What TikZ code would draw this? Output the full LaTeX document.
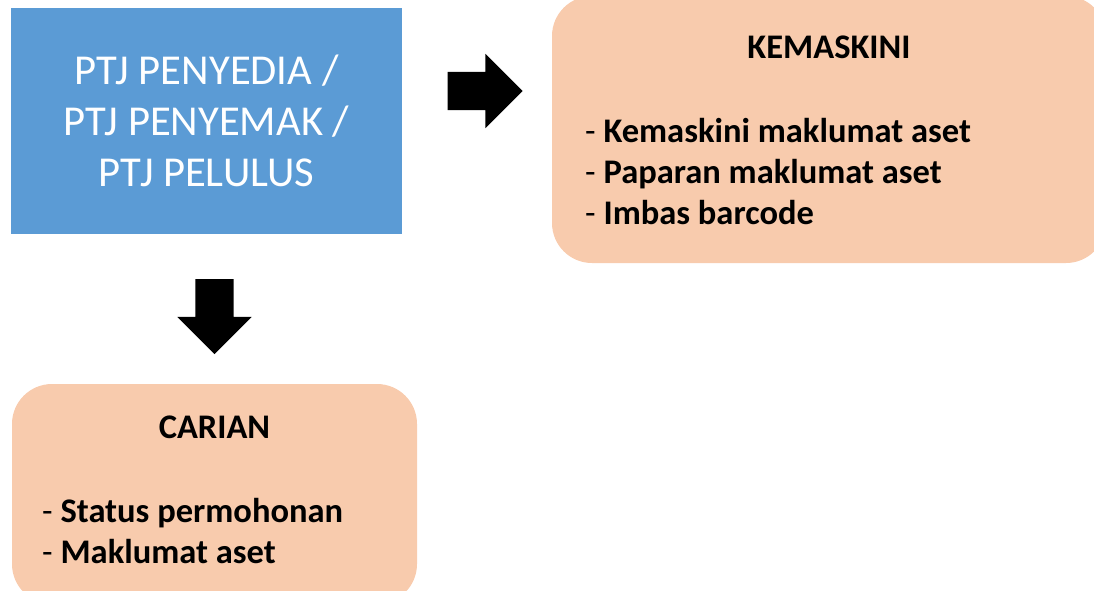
\documentclass[tikz,border=0pt]{standalone}
\usepackage{fontspec}
\setmainfont{Carlito}
\usetikzlibrary{shapes.arrows}
\definecolor{ptjblue}{HTML}{5B9BD5}
\definecolor{peach}{HTML}{F8CBAD}
\tikzset{ptjbox/.style = {fill = ptjblue, text = white, align = center, inner sep = 0,
                          minimum width = 391pt, minimum height = 226pt,
                          font = \fontsize{42.6pt}{51pt}\selectfont}}
\tikzset{menubox/.style = {fill = peach, rounded corners = 40pt, inner sep = 0}}
\tikzset{menutitle/.style = {inner sep = 0, font = \fontsize{34.5pt}{41pt}\selectfont\bfseries}}
\tikzset{menulist/.style = {inner sep = 0, anchor = west, align = left,
                            font = \fontsize{34.5pt}{41pt}\selectfont}}
\tikzset{blkarrow/.style = {single arrow, fill = black, inner xsep = 0, inner ysep = 19pt,
                            minimum height = 75pt, single arrow head extend = 18pt}}
\newcommand{\menuitem}[1]{-~\textbf{#1}}
\begin{document}
\begin{tikzpicture}[x = 1pt, y = -1pt]
    \useasboundingbox (0,0) rectangle (1094,590);
    % main box
    \node [ptjbox] (ptj) at (206.5,121) {PTJ PENYEDIA /\\PTJ PENYEMAK /\\PTJ PELULUS};
    % update box
    \node [menubox, minimum width = 554pt, minimum height = 267pt] (kemas) at (829,129.5) {};
    \node [menutitle] (kemastitle) at (829,47) {KEMASKINI};
    \node [menulist] (kemaslist) at (585,172)
        {\menuitem{Kemaskini maklumat aset}\\\menuitem{Paparan maklumat aset}\\\menuitem{Imbas barcode}};
    % search box
    \node [menubox, minimum width = 405pt, minimum height = 220pt] (carian) at (214.5,494) {};
    \node [menutitle] (cariantitle) at (214.5,427) {CARIAN};
    \node [menulist] (carianlist) at (42,531.5)
        {\menuitem{Status permohonan}\\\menuitem{Maklumat aset}};
    % arrows (centre anchor sits on the shaft)
    \node [blkarrow] (toright) at (475.5,91) {};
    \node [blkarrow, rotate = -90] (todown) at (214.5,307) {};
\end{tikzpicture}
\end{document}
